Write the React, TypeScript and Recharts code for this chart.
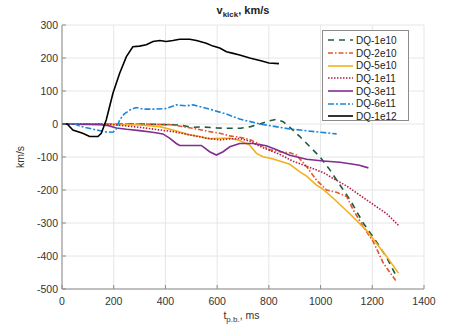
import React from "react"
import { LineChart, Line, XAxis, YAxis, CartesianGrid } from "recharts"

// t (ms) / v (km/s) pairs
const dq1e10: [number, number][] = [
  [0, 0], [150, 0], [300, 0], [400, -2], [455, -3], [500, -10], [540, -9], [600, -12], [650, -13],
  [690, -13], [730, -8], [765, 0], [800, 9], [828, 14], [855, 7], [881, -10], [920, -38], [959, -69],
  [997, -99], [1036, -139], [1075, -185], [1114, -230], [1165, -300], [1217, -358], [1256, -405], [1294, -463],
]
const dq2e10: [number, number][] = [
  [0, 0], [200, 0], [300, 0], [416, -2], [468, -8], [520, -15], [571, -23], [610, -28], [649, -36],
  [687, -40], [726, -47], [765, -62], [804, -78], [842, -84], [881, -87], [907, -94], [946, -129],
  [984, -170], [1023, -200], [1062, -207], [1101, -220], [1126, -260], [1165, -311], [1204, -357],
  [1243, -422], [1294, -478],
]
const dq5e10: [number, number][] = [
  [0, 0], [200, -1], [300, -3], [378, -8], [429, -18], [494, -33], [533, -38], [571, -45], [610, -43],
  [649, -43], [687, -50], [726, -64], [752, -89], [778, -99], [817, -106], [881, -122], [920, -145],
  [946, -158], [984, -185], [1010, -198], [1049, -225], [1113, -272], [1178, -323], [1256, -402], [1301, -452],
]
const dq1e11: [number, number][] = [
  [0, 0], [150, 0], [200, -2], [250, -6], [300, -10], [378, -18], [429, -23], [494, -33], [558, -43],
  [610, -48], [650, -45], [687, -44], [726, -52], [765, -68], [842, -92], [894, -113], [946, -128],
  [1010, -147], [1049, -165], [1101, -188], [1178, -230], [1256, -272], [1301, -307],
]
const dq3e11: [number, number][] = [
  [0, 0], [150, -2], [180, -5], [210, -12], [250, -16], [300, -20], [350, -25], [390, -30], [416, -43],
  [442, -59], [455, -65], [539, -65], [571, -84], [597, -94], [623, -84], [649, -69], [687, -59],
  [740, -59], [790, -66], [830, -78], [881, -95], [946, -107], [1010, -112], [1075, -116], [1120, -121],
  [1150, -125], [1185, -133],
]
const dq6e11: [number, number][] = [
  [0, 0], [50, 0], [68, -6], [120, -16], [171, -24], [197, -25], [210, -15], [223, 12], [240, 30],
  [261, 42], [287, 50], [313, 45], [352, 45], [403, 47], [442, 58], [481, 55], [507, 58], [546, 50],
  [584, 42], [636, 30], [687, 15], [765, 0], [881, -15], [1000, -25], [1062, -30],
]
const dq1e12: [number, number][] = [
  [0, 0], [20, 0], [42, -18], [80, -28], [107, -38], [139, -38], [152, -28], [171, 12], [197, 93],
  [223, 154], [249, 204], [274, 234], [300, 236], [326, 240], [352, 250], [378, 253], [403, 250],
  [429, 253], [455, 257], [494, 257], [520, 253], [558, 245], [584, 236], [610, 230], [636, 219],
  [662, 214], [687, 209], [726, 200], [773, 191], [800, 185], [839, 183],
]

const xTicks = [0, 200, 400, 600, 800, 1000, 1200, 1400]
const yTicks = [-500, -400, -300, -200, -100, 0, 100, 200, 300]

const series = [
  { name: "DQ-1e10", points: dq1e10, color: "#1d5c3c", dash: "6 5" },
  { name: "DQ-2e10", points: dq2e10, color: "#e2572a", dash: "5 2 1.5 2" },
  { name: "DQ-5e10", points: dq5e10, color: "#f2b01e", dash: undefined },
  { name: "DQ-1e11", points: dq1e11, color: "#b01f45", dash: "1.5 1.5" },
  { name: "DQ-3e11", points: dq3e11, color: "#7f2f8f", dash: undefined },
  { name: "DQ-6e11", points: dq6e11, color: "#1c86d9", dash: "6 2 2 2" },
  { name: "DQ-1e12", points: dq1e12, color: "#000000", dash: undefined },
]

const font = '"Liberation Sans", Arial, sans-serif'
const axisColor = "#8c8c8c"
const tickStyle = { fontSize: 10.5, fill: "#333", fontFamily: font }

export default function App() {
  return (
    <div style={{ position: "absolute", left: 0, top: 0, width: 469, height: 327, background: "#fff", fontFamily: font }}>
      <LineChart width={469} height={327} margin={{ top: 25, right: 45, left: 0, bottom: 0 }}>
        <CartesianGrid stroke="#e6e6e6" />
        <XAxis
          dataKey="t"
          type="number"
          domain={[0, 1400]}
          ticks={xTicks}
          height={38}
          stroke={axisColor}
          tickSize={-4}
          tickMargin={13}
          tick={tickStyle}
          allowDataOverflow
        />
        <YAxis
          type="number"
          domain={[-500, 300]}
          ticks={yTicks}
          width={62}
          stroke={axisColor}
          tickSize={-4}
          tickMargin={8}
          tick={tickStyle}
          allowDataOverflow
        />
        <XAxis
          xAxisId="top"
          orientation="top"
          type="number"
          domain={[0, 1400]}
          ticks={xTicks}
          height={0}
          stroke={axisColor}
          tickSize={-4}
          tickFormatter={() => ""}
          allowDataOverflow
        />
        <YAxis
          yAxisId="right"
          orientation="right"
          type="number"
          domain={[-500, 300]}
          ticks={yTicks}
          width={0}
          stroke={axisColor}
          tickSize={-4}
          tickFormatter={() => ""}
          allowDataOverflow
        />
        {series.map((s) => (
          <Line
            key={s.name}
            data={s.points.map(([t, v]) => ({ t, v }))}
            dataKey="v"
            name={s.name}
            type="linear"
            stroke={s.color}
            strokeWidth={1.6}
            strokeDasharray={s.dash}
            dot={false}
            isAnimationActive={false}
          />
        ))}
      </LineChart>

      <div style={{ position: "absolute", left: 0, width: 469, top: 4, textAlign: "center", paddingLeft: 17, boxSizing: "border-box", fontSize: 11, fontWeight: "bold", color: "#222" }}>
        v<sub style={{ fontSize: 8 }}>kick</sub>, km/s
      </div>
      <div style={{ position: "absolute", left: 0, width: 469, top: 309, textAlign: "center", paddingLeft: 14, boxSizing: "border-box", fontSize: 10.5, color: "#333" }}>
        t<sub style={{ fontSize: 8 }}>p.b.</sub>, ms
      </div>
      <div style={{ position: "absolute", left: 20, top: 157, transform: "translate(-50%, -50%) rotate(-90deg)", fontSize: 10.5, color: "#333" }}>
        km/s
      </div>

      <div style={{ position: "absolute", left: 322, top: 30, width: 87, height: 91, background: "#fff", border: "1px solid #8c8c8c", boxSizing: "border-box", padding: "3px 0 0 4px" }}>
        {series.map((s) => (
          <div key={s.name} style={{ display: "flex", alignItems: "center", height: 12.7, fontSize: 10, color: "#222" }}>
            <svg width={27} height={6} style={{ marginRight: 2 }}>
              <line x1={1} y1={3} x2={26} y2={3} stroke={s.color} strokeWidth={1.6} strokeDasharray={s.dash} />
            </svg>
            <span>{s.name}</span>
          </div>
        ))}
      </div>
    </div>
  )
}
